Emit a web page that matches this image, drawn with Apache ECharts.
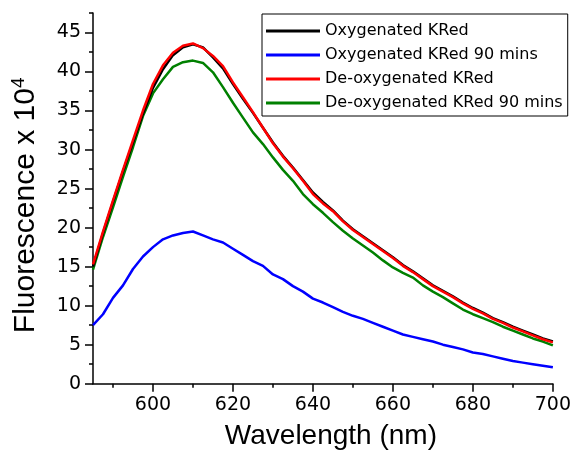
<!DOCTYPE html>
<html><head><meta charset="utf-8">
<script src="https://cdn.jsdelivr.net/npm/echarts@6/dist/echarts.min.js"></script>
<style>html,body{margin:0;padding:0;background:#fff}#c{width:574px;height:461px}</style>
</head><body><div id="c"></div>
<script>
const wavelengths = [585,587.5,590,592.5,595,597.5,600,602.5,605,607.5,610,612.5,615,617.5,620,622.5,625,627.5,630,632.5,635,637.5,640,642.5,645,647.5,650,652.5,655,657.5,660,662.5,665,667.5,670,672.5,675,677.5,680,682.5,685,687.5,690,692.5,695,697.5,700];
const oxyKRed = [15.0,19.3,23.3,27.2,30.9,34.6,37.9,40.3,42.1,43.1,43.5,43.1,41.8,40.4,38.4,36.5,34.7,32.8,30.9,29.2,27.7,26.1,24.5,23.3,22.2,20.9,19.8,18.9,18.0,17.1,16.2,15.2,14.4,13.5,12.6,11.9,11.2,10.4,9.7,9.1,8.4,7.9,7.3,6.8,6.3,5.8,5.4];
const oxyKRed90 = [7.5,8.9,11.0,12.6,14.7,16.3,17.5,18.5,19.0,19.3,19.5,19.0,18.5,18.1,17.3,16.5,15.7,15.1,14.0,13.4,12.5,11.8,10.9,10.4,9.8,9.2,8.7,8.3,7.8,7.3,6.8,6.3,6.0,5.7,5.4,5.0,4.7,4.4,4.0,3.8,3.5,3.2,2.9,2.7,2.5,2.3,2.1];
const deoxyKRed = [15.3,19.5,23.5,27.4,31.2,35.0,38.4,40.8,42.4,43.3,43.6,43.0,42.0,40.7,38.6,36.7,34.8,32.8,30.8,29.1,27.6,26.0,24.3,23.1,22.1,20.8,19.7,18.8,17.9,17.0,16.1,15.1,14.3,13.4,12.5,11.8,11.1,10.3,9.6,9.0,8.3,7.8,7.2,6.7,6.2,5.7,5.3];
const deoxyKRed90 = [14.6,18.8,22.6,26.5,30.3,34.3,37.2,39.0,40.6,41.2,41.4,41.1,39.9,38.0,36.0,34.1,32.2,30.7,29.0,27.4,26.0,24.3,23.0,21.9,20.7,19.6,18.6,17.7,16.8,15.8,14.9,14.2,13.6,12.6,11.8,11.1,10.3,9.5,8.9,8.4,7.9,7.3,6.8,6.3,5.8,5.4,4.9];
const seriesNames = ['Oxygenated KRed','Oxygenated KRed 90 mins','De-oxygenated KRed','De-oxygenated KRed 90 mins'];
const seriesColors = ['#000000','#0000ff','#ff0000','#008000'];
const xMajorTicks = [600,620,640,660,680,700];
const xMinorTicks = [590,610,630,650,670,690];
const yMajorTicks = [0,5,10,15,20,25,30,35,40,45];
const yMinorTicks = [2.5,7.5,12.5,17.5,22.5,27.5,32.5,37.5,42.5,47.5];

const pairs = v => wavelengths.map((w,i)=>[w,v[i]]);
const allValues = [oxyKRed, oxyKRed90, deoxyKRed, deoxyKRed90];
const FONT = 'Liberation Sans';
const WIDE = 'DejaVu Sans';

const chart = echarts.init(document.getElementById('c'), null, {renderer:'canvas'});
chart.setOption({
  animation:false,
  backgroundColor:'#fff',
  textStyle:{fontFamily:FONT},
  grid:{left:93, top:13, right:18.3, bottom:77.3, containLabel:false},
  legend:{
    orient:'vertical', left:262, top:14,
    data:seriesNames,
    icon:'rect', itemWidth:54, itemHeight:3, itemGap:4, itemTextGap:5,
    textStyle:{fontFamily:WIDE, fontSize:16, color:'#000', lineHeight:20},
    borderColor:'#000', borderWidth:1, padding:[7,5,3,4], backgroundColor:'#fff'
  },
  xAxis:[{
    type:'value', min:585, max:700,
    name:'Wavelength (nm)', nameLocation:'middle', nameGap:39,
    nameTextStyle:{fontFamily:FONT, fontSize:28, color:'#000', padding:[0,0,0,16]},
    axisLine:{show:true, lineStyle:{color:'#000', width:1.5}},
    axisTick:{show:true, inside:false, length:8, lineStyle:{color:'#000', width:1.5}, customValues:xMajorTicks},
    axisLabel:{show:true, fontFamily:WIDE, fontSize:19, color:'#000', margin:12, customValues:xMajorTicks},
    splitLine:{show:false}
  },{
    type:'value', min:585, max:700, position:'bottom', offset:0,
    axisLine:{show:false},
    axisTick:{show:true, inside:false, length:4, lineStyle:{color:'#000', width:1.5}, customValues:xMinorTicks},
    axisLabel:{show:false}, splitLine:{show:false}
  }],
  yAxis:[{
    type:'value', min:0, max:47.5,
    name:'{a|Fluorescence x 10}{b|4}', nameLocation:'middle', nameGap:50,
    nameTextStyle:{fontFamily:FONT, color:'#000', padding:[0,14,0,0],
      rich:{a:{fontFamily:FONT, fontSize:30, color:'#000'}, b:{fontFamily:FONT, fontSize:19, color:'#000', padding:[0,0,15,0]}}},
    axisLine:{show:true, lineStyle:{color:'#000', width:1.5}},
    axisTick:{show:true, inside:false, length:8, lineStyle:{color:'#000', width:1.5}, customValues:yMajorTicks},
    axisLabel:{show:true, fontFamily:WIDE, fontSize:19, color:'#000', margin:12, customValues:yMajorTicks},
    splitLine:{show:false}
  },{
    type:'value', min:0, max:47.5, position:'left', offset:0,
    axisLine:{show:false},
    axisTick:{show:true, inside:false, length:4, lineStyle:{color:'#000', width:1.5}, customValues:yMinorTicks},
    axisLabel:{show:false}, splitLine:{show:false}
  }],
  series: seriesNames.map((n,i)=>({
    name:n, type:'line', xAxisIndex:0, yAxisIndex:0,
    data:pairs(allValues[i]),
    showSymbol:false, symbol:'none', smooth:false,
    lineStyle:{color:seriesColors[i], width:2.5},
    itemStyle:{color:seriesColors[i]},
    z: i===1?2:(i===3?3:(i===0?4:5))
  }))
});
</script></body></html>
